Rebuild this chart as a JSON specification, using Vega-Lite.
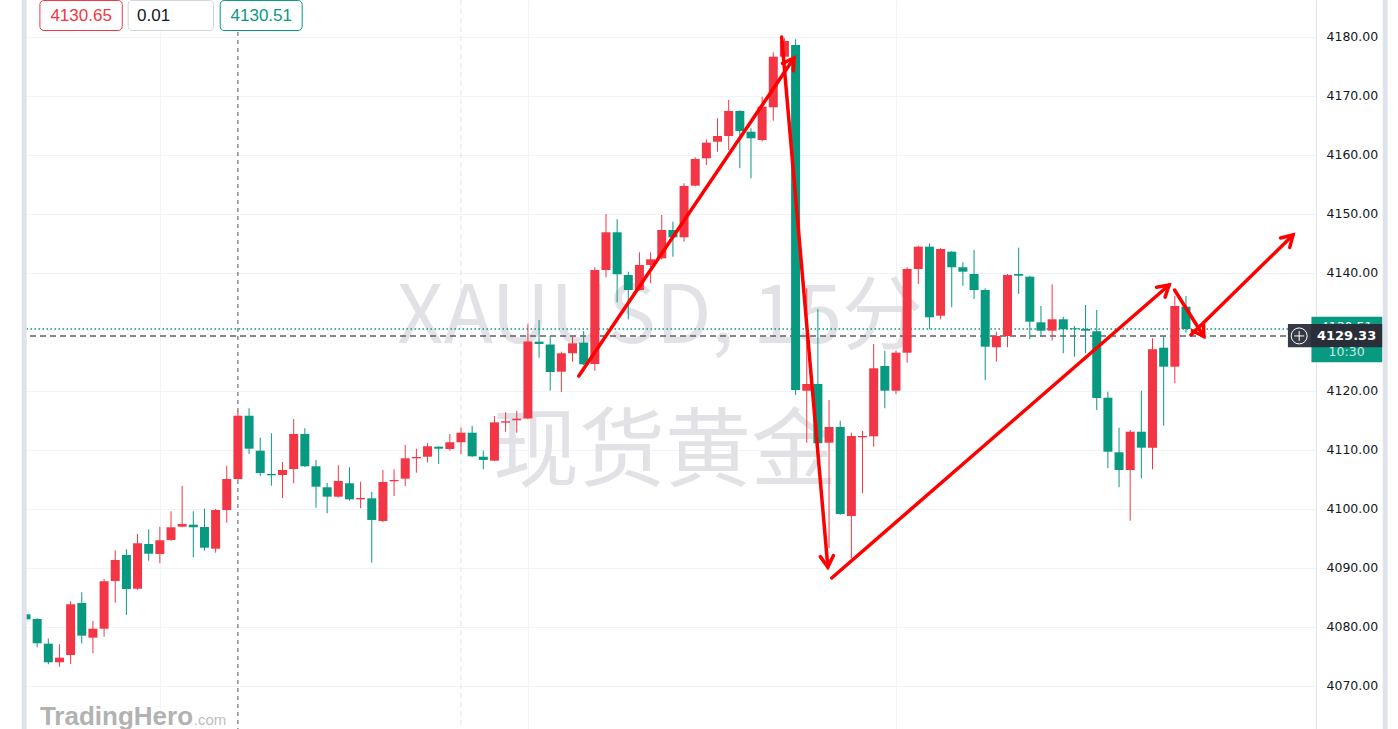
{
"$schema":"https://vega.github.io/schema/vega-lite/v6.json",
"width":1294,"height":729,
"autosize":{"type":"none"},
"padding":{"left":22,"top":0,"right":82,"bottom":0},
"background":"#ffffff",
"config":{"view":{"stroke":null}},
"data":{"values":[{}]},
"datasets":{
"candles":[
{"i":1,"o":4082.15,"h":4082.3,"l":4081.1,"c":4081.3},
{"i":2,"o":4081.36,"h":4081.47,"l":4076.56,"c":4077.24},
{"i":3,"o":4077.17,"h":4078.02,"l":4073.68,"c":4074.02},
{"i":4,"o":4074.02,"h":4077.07,"l":4073.27,"c":4074.8},
{"i":5,"o":4075.25,"h":4084.36,"l":4073.73,"c":4083.85},
{"i":6,"o":4084.07,"h":4085.88,"l":4077.24,"c":4078.53},
{"i":7,"o":4078.19,"h":4081.02,"l":4075.54,"c":4079.71},
{"i":8,"o":4079.71,"h":4088.14,"l":4078.36,"c":4087.75},
{"i":9,"o":4087.8,"h":4093.0,"l":4084.12,"c":4091.36},
{"i":10,"o":4092.2,"h":4093.17,"l":4082.03,"c":4086.44},
{"i":11,"o":4086.49,"h":4095.76,"l":4086.3,"c":4094.19},
{"i":12,"o":4094.07,"h":4096.56,"l":4091.24,"c":4092.42},
{"i":13,"o":4092.37,"h":4097.0,"l":4090.8,"c":4094.7},
{"i":14,"o":4094.75,"h":4099.61,"l":4094.6,"c":4096.9},
{"i":15,"o":4097.0,"h":4103.9,"l":4096.9,"c":4097.46},
{"i":16,"o":4097.34,"h":4099.61,"l":4091.81,"c":4096.9},
{"i":17,"o":4096.95,"h":4100.05,"l":4092.93,"c":4093.44},
{"i":18,"o":4093.27,"h":4100.0,"l":4092.59,"c":4099.83},
{"i":19,"o":4099.83,"h":4107.34,"l":4097.68,"c":4105.08},
{"i":20,"o":4105.08,"h":4116.61,"l":4104.9,"c":4115.81},
{"i":21,"o":4115.81,"h":4117.07,"l":4109.32,"c":4110.22},
{"i":22,"o":4109.88,"h":4112.09,"l":4105.59,"c":4106.1},
{"i":23,"o":4105.93,"h":4112.83,"l":4103.95,"c":4105.71},
{"i":24,"o":4105.76,"h":4107.97,"l":4101.86,"c":4106.61},
{"i":25,"o":4106.78,"h":4115.25,"l":4104.36,"c":4112.71},
{"i":26,"o":4112.71,"h":4113.68,"l":4107.1,"c":4107.24},
{"i":27,"o":4107.24,"h":4108.31,"l":4100.22,"c":4103.78},
{"i":28,"o":4103.68,"h":4104.41,"l":4099.27,"c":4102.09},
{"i":29,"o":4102.09,"h":4107.41,"l":4101.95,"c":4104.75},
{"i":30,"o":4104.36,"h":4107.07,"l":4101.41,"c":4101.64},
{"i":31,"o":4101.64,"h":4104.63,"l":4100.12,"c":4101.86},
{"i":32,"o":4101.81,"h":4102.93,"l":4090.9,"c":4098.14},
{"i":33,"o":4097.97,"h":4106.61,"l":4097.75,"c":4104.58},
{"i":34,"o":4104.7,"h":4106.73,"l":4102.2,"c":4104.92},
{"i":35,"o":4105.14,"h":4110.85,"l":4103.9,"c":4108.59},
{"i":36,"o":4108.59,"h":4110.22,"l":4106.15,"c":4108.81},
{"i":37,"o":4108.86,"h":4111.19,"l":4107.92,"c":4110.63},
{"i":38,"o":4110.56,"h":4110.6,"l":4107.63,"c":4110.22},
{"i":39,"o":4110.17,"h":4112.71,"l":4109.88,"c":4111.31},
{"i":40,"o":4111.31,"h":4113.78,"l":4109.32,"c":4112.93},
{"i":41,"o":4112.93,"h":4114.07,"l":4108.8,"c":4108.93},
{"i":42,"o":4108.86,"h":4109.88,"l":4106.73,"c":4108.31},
{"i":43,"o":4108.19,"h":4115.76,"l":4108.1,"c":4114.69},
{"i":44,"o":4114.63,"h":4116.39,"l":4113.1,"c":4114.86},
{"i":45,"o":4115.03,"h":4116.61,"l":4112.93,"c":4115.31},
{"i":46,"o":4115.34,"h":4131.41,"l":4115.2,"c":4128.39},
{"i":47,"o":4128.36,"h":4132.03,"l":4125.64,"c":4127.97},
{"i":48,"o":4127.88,"h":4129.32,"l":4120.05,"c":4123.22},
{"i":49,"o":4123.27,"h":4126.66,"l":4119.83,"c":4126.39},
{"i":50,"o":4126.39,"h":4129.2,"l":4124.97,"c":4128.08},
{"i":51,"o":4128.19,"h":4130.17,"l":4124.4,"c":4124.52},
{"i":52,"o":4124.58,"h":4140.97,"l":4123.44,"c":4140.51},
{"i":53,"o":4140.51,"h":4150.0,"l":4139.27,"c":4146.9},
{"i":54,"o":4146.9,"h":4149.1,"l":4135.03,"c":4139.78},
{"i":55,"o":4139.66,"h":4140.22,"l":4132.12,"c":4137.12},
{"i":56,"o":4137.12,"h":4143.51,"l":4137.0,"c":4141.36},
{"i":57,"o":4141.36,"h":4143.51,"l":4138.25,"c":4142.32},
{"i":58,"o":4142.49,"h":4149.83,"l":4142.3,"c":4147.29},
{"i":59,"o":4147.29,"h":4148.7,"l":4142.76,"c":4146.05},
{"i":60,"o":4146.05,"h":4155.2,"l":4145.31,"c":4154.75},
{"i":61,"o":4154.8,"h":4159.61,"l":4154.7,"c":4159.32},
{"i":62,"o":4159.44,"h":4162.66,"l":4158.31,"c":4162.09},
{"i":63,"o":4162.25,"h":4166.22,"l":4160.56,"c":4163.22},
{"i":64,"o":4163.22,"h":4169.32,"l":4160.85,"c":4167.46},
{"i":65,"o":4167.46,"h":4167.6,"l":4157.75,"c":4164.07},
{"i":66,"o":4163.95,"h":4164.53,"l":4156.05,"c":4162.83},
{"i":67,"o":4162.54,"h":4169.88,"l":4162.25,"c":4168.19},
{"i":68,"o":4168.09,"h":4177.41,"l":4165.81,"c":4176.66},
{"i":69,"o":4176.66,"h":4179.78,"l":4176.5,"c":4179.32},
{"i":70,"o":4178.64,"h":4179.61,"l":4119.32,"c":4120.17},
{"i":71,"o":4120.05,"h":4137.41,"l":4111.24,"c":4121.19},
{"i":72,"o":4121.19,"h":4133.9,"l":4111.0,"c":4111.14},
{"i":73,"o":4111.24,"h":4118.47,"l":4093.39,"c":4113.9},
{"i":74,"o":4113.9,"h":4114.97,"l":4099.0,"c":4099.15},
{"i":75,"o":4098.81,"h":4112.93,"l":4091.64,"c":4112.37},
{"i":76,"o":4112.15,"h":4113.22,"l":4102.66,"c":4112.37},
{"i":77,"o":4112.32,"h":4127.97,"l":4110.56,"c":4123.85},
{"i":78,"o":4124.24,"h":4126.83,"l":4117.07,"c":4120.05},
{"i":79,"o":4120.05,"h":4126.83,"l":4119.49,"c":4126.49},
{"i":80,"o":4126.49,"h":4140.97,"l":4124.8,"c":4140.68},
{"i":81,"o":4140.68,"h":4144.63,"l":4138.14,"c":4144.46},
{"i":82,"o":4144.46,"h":4145.03,"l":4130.46,"c":4132.49},
{"i":83,"o":4132.76,"h":4144.2,"l":4132.15,"c":4144.07},
{"i":84,"o":4143.61,"h":4143.7,"l":4134.19,"c":4140.97},
{"i":85,"o":4140.97,"h":4141.81,"l":4137.85,"c":4140.22},
{"i":86,"o":4139.83,"h":4143.9,"l":4135.59,"c":4137.12},
{"i":87,"o":4137.12,"h":4137.41,"l":4121.86,"c":4127.51},
{"i":88,"o":4127.41,"h":4130.05,"l":4124.97,"c":4129.32},
{"i":89,"o":4129.32,"h":4139.83,"l":4127.41,"c":4139.66},
{"i":90,"o":4139.83,"h":4144.29,"l":4136.44,"c":4139.54},
{"i":91,"o":4139.37,"h":4139.54,"l":4128.76,"c":4131.75},
{"i":92,"o":4131.64,"h":4134.41,"l":4129.32,"c":4130.22},
{"i":93,"o":4130.22,"h":4138.08,"l":4128.53,"c":4132.15},
{"i":94,"o":4132.15,"h":4132.59,"l":4126.39,"c":4130.46},
{"i":95,"o":4130.63,"h":4131.02,"l":4125.81,"c":4130.46},
{"i":96,"o":4130.51,"h":4134.58,"l":4126.39,"c":4130.22},
{"i":97,"o":4130.12,"h":4133.73,"l":4116.78,"c":4118.81},
{"i":98,"o":4118.86,"h":4119.88,"l":4106.9,"c":4109.71},
{"i":99,"o":4109.61,"h":4113.78,"l":4103.68,"c":4106.61},
{"i":100,"o":4106.61,"h":4113.39,"l":4098.02,"c":4113.1},
{"i":101,"o":4113.1,"h":4120.05,"l":4105.2,"c":4110.39},
{"i":102,"o":4110.39,"h":4128.93,"l":4106.73,"c":4127.07},
{"i":103,"o":4127.34,"h":4129.32,"l":4114.12,"c":4124.12},
{"i":104,"o":4124.12,"h":4136.1,"l":4121.31,"c":4134.41},
{"i":105,"o":4134.29,"h":4136.1,"l":4129.88,"c":4130.51}
],
"arrows":[
{"id":1,"xa":50.56,"ya":4122.54,"xb":69.86,"yb":4176.44},
{"id":2,"xa":68.75,"ya":4180.0,"xb":72.89,"yb":4090.17},
{"id":3,"xa":73.24,"ya":4088.31,"xb":103.49,"yb":4137.97},
{"id":4,"xa":103.98,"ya":4137.12,"xb":106.6,"yb":4129.24},
{"id":5,"xa":105.45,"ya":4129.49,"xb":114.6,"yb":4146.44}
]
},
"layer":[
{"data":{"name":"candles"},
 "mark":{"type":"rule","strokeWidth":1,"clip":true},
 "encoding":{
  "x":{"field":"i","type":"quantitative","scale":{"domain":[1.089,116.21],"nice":false,"zero":false},
       "axis":{"orient":"bottom","values":[13,46,79],"grid":true,"gridColor":"#f0f3fa","gridWidth":1,"labels":false,"ticks":false,"domain":false,"title":null}},
  "y":{"field":"l","type":"quantitative","scale":{"domain":[4062.71,4186.27],"nice":false,"zero":false},
       "axis":{"orient":"right","values":[4070,4080,4090,4100,4110,4120,4140,4150,4160,4170,4180],"format":".2f","grid":true,"gridColor":"#f0f3fa","gridWidth":1,"ticks":false,"domain":true,"domainColor":"#e0e3eb","domainWidth":1,"labelFont":"DejaVu Sans","labelFontSize":12.5,"labelColor":"#131722","labelPadding":10,"labelAlign":"left","labelBaseline":"middle","title":null}},
  "y2":{"field":"h"},
  "color":{"value":"#ffffff"},
  "opacity":{"value":0}}},
{"mark":{"type":"text","text":"XAUUSD, 15分","font":"Noto Sans CJK SC","fontSize":81,"color":"#e1e1e6","align":"center","baseline":"alphabetic"},
 "encoding":{"x":{"datum":57.85,"type":"quantitative","scale":{"domain":[1.089,116.21],"nice":false,"zero":false}},
             "y":{"datum":4128.14,"type":"quantitative","scale":{"domain":[4062.71,4186.27],"nice":false,"zero":false}}}},
{"mark":{"type":"text","text":"现货黄金","font":"Noto Sans CJK SC","fontSize":86,"color":"#e1e1e6","align":"center","baseline":"alphabetic"},
 "encoding":{"x":{"datum":58.29,"type":"quantitative","scale":{"domain":[1.089,116.21],"nice":false,"zero":false}},
             "y":{"datum":4104.92,"type":"quantitative","scale":{"domain":[4062.71,4186.27],"nice":false,"zero":false}}}},
{"mark":{"type":"rule","color":"#e0e3eb","strokeDash":[5,4],"strokeWidth":1},
 "encoding":{"x":{"datum":40,"type":"quantitative","scale":{"domain":[1.089,116.21],"nice":false,"zero":false}}}},
{"mark":{"type":"rule","color":"#50535e","strokeDash":[4,4],"strokeWidth":1},
 "encoding":{"x":{"datum":20,"type":"quantitative","scale":{"domain":[1.089,116.21],"nice":false,"zero":false}}}},
{"mark":{"type":"rule","color":"#089981","strokeDash":[1.5,2.5],"strokeWidth":1.5},
 "encoding":{"y":{"datum":4130.51,"type":"quantitative","scale":{"domain":[4062.71,4186.27],"nice":false,"zero":false}}}},
{"mark":{"type":"rule","color":"#5d606b","strokeDash":[6,4],"strokeWidth":1.5},
 "encoding":{"y":{"datum":4129.33,"type":"quantitative","scale":{"domain":[4062.71,4186.27],"nice":false,"zero":false}}}},
{"data":{"name":"candles"},
 "mark":{"type":"rule","strokeWidth":1,"clip":true},
 "encoding":{
  "x":{"field":"i","type":"quantitative","title":null,"scale":{"domain":[1.089,116.21],"nice":false,"zero":false}},
  "y":{"field":"l","type":"quantitative","title":null,"scale":{"domain":[4062.71,4186.27],"nice":false,"zero":false}},
  "y2":{"field":"h"},
  "color":{"condition":{"test":"datum.c > datum.o","value":"#f23645"},"value":"#089981"}}},
{"data":{"name":"candles"},
 "mark":{"type":"bar","width":9,"clip":true},
 "encoding":{
  "x":{"field":"i","type":"quantitative","title":null,"scale":{"domain":[1.089,116.21],"nice":false,"zero":false}},
  "y":{"field":"o","type":"quantitative","title":null,"scale":{"domain":[4062.71,4186.27],"nice":false,"zero":false}},
  "y2":{"field":"c"},
  "color":{"condition":{"test":"datum.c > datum.o","value":"#f23645"},"value":"#089981"}}},
{"data":{"name":"arrows"},
 "mark":{"type":"rule","color":"#ff0000","strokeWidth":3.5,"strokeCap":"round"},
 "encoding":{
  "x":{"field":"xa","type":"quantitative","title":null,"scale":{"domain":[1.089,116.21],"nice":false,"zero":false}},
  "y":{"field":"ya","type":"quantitative","title":null,"scale":{"domain":[4062.71,4186.27],"nice":false,"zero":false}},
  "x2":{"field":"xb"},"y2":{"field":"yb"}}},
{"data":{"name":"arrows"},
 "mark":{"type":"point","shape":"M-0.6,1L0,0L0.6,1","filled":false,"color":"#ff0000","strokeWidth":3.5,"size":484,"strokeCap":"round","opacity":1},
 "encoding":{
  "x":{"field":"xb","type":"quantitative","title":null,"scale":{"domain":[1.089,116.21],"nice":false,"zero":false}},
  "y":{"field":"yb","type":"quantitative","title":null,"scale":{"domain":[4062.71,4186.27],"nice":false,"zero":false}},
  "angle":{"field":"id","type":"quantitative","scale":{"type":"linear","domain":[1,2,3,4,5],"range":[34.3,175,49.2,147.6,45.8]},"legend":null}}},
{"mark":{"type":"rect","color":"#089981"},
 "encoding":{"x":{"datum":116.25,"type":"quantitative","scale":{"domain":[1.089,116.21],"nice":false,"zero":false}},"x2":{"datum":122.6},
             "y":{"datum":4132.6,"type":"quantitative","scale":{"domain":[4062.71,4186.27],"nice":false,"zero":false}},"y2":{"datum":4124.86}}},
{"mark":{"type":"text","text":"4130.51","font":"DejaVu Sans","fontSize":12.5,"color":"#ffffff","align":"center","baseline":"middle"},
 "encoding":{"x":{"datum":119.4,"type":"quantitative","scale":{"domain":[1.089,116.21],"nice":false,"zero":false}},
             "y":{"datum":4130.85,"type":"quantitative","scale":{"domain":[4062.71,4186.27],"nice":false,"zero":false}}}},
{"mark":{"type":"rect","color":"#363a45"},
 "encoding":{"x":{"datum":114.14,"type":"quantitative","scale":{"domain":[1.089,116.21],"nice":false,"zero":false}},"x2":{"datum":116.21},
             "y":{"datum":4131.36,"type":"quantitative","scale":{"domain":[4062.71,4186.27],"nice":false,"zero":false}},"y2":{"datum":4127.41}}},
{"mark":{"type":"rect","color":"#2a2e39"},
 "encoding":{"x":{"datum":116.21,"type":"quantitative","scale":{"domain":[1.089,116.21],"nice":false,"zero":false}},"x2":{"datum":122.6},
             "y":{"datum":4131.36,"type":"quantitative","scale":{"domain":[4062.71,4186.27],"nice":false,"zero":false}},"y2":{"datum":4127.41}}},
{"mark":{"type":"text","text":"4129.33","font":"DejaVu Sans","fontSize":13,"fontWeight":"bold","color":"#ffffff","align":"center","baseline":"middle"},
 "encoding":{"x":{"datum":119.4,"type":"quantitative","scale":{"domain":[1.089,116.21],"nice":false,"zero":false}},
             "y":{"datum":4129.33,"type":"quantitative","scale":{"domain":[4062.71,4186.27],"nice":false,"zero":false}}}},
{"mark":{"type":"text","text":"10:30","font":"DejaVu Sans","fontSize":12.5,"color":"#c5eae2","align":"center","baseline":"middle"},
 "encoding":{"x":{"datum":119.4,"type":"quantitative","scale":{"domain":[1.089,116.21],"nice":false,"zero":false}},
             "y":{"datum":4126.61,"type":"quantitative","scale":{"domain":[4062.71,4186.27],"nice":false,"zero":false}}}},
{"mark":{"type":"point","shape":"circle","filled":false,"color":"#ffffff","strokeWidth":1,"size":256,"opacity":1},
 "encoding":{"x":{"datum":115.15,"type":"quantitative","scale":{"domain":[1.089,116.21],"nice":false,"zero":false}},
             "y":{"datum":4129.33,"type":"quantitative","scale":{"domain":[4062.71,4186.27],"nice":false,"zero":false}}}},
{"mark":{"type":"point","shape":"M-1,0L1,0M0,-1L0,1","filled":false,"color":"#ffffff","strokeWidth":1,"size":100,"opacity":1},
 "encoding":{"x":{"datum":115.15,"type":"quantitative","scale":{"domain":[1.089,116.21],"nice":false,"zero":false}},
             "y":{"datum":4129.33,"type":"quantitative","scale":{"domain":[4062.71,4186.27],"nice":false,"zero":false}}}},
{"mark":{"type":"rect","fill":"#ffffff","stroke":"#f23645","strokeWidth":1,"cornerRadius":4},
 "encoding":{"x":{"datum":2.245,"type":"quantitative","scale":{"domain":[1.089,116.21],"nice":false,"zero":false}},"x2":{"datum":9.63},
             "y":{"datum":4186.19,"type":"quantitative","scale":{"domain":[4062.71,4186.27],"nice":false,"zero":false}},"y2":{"datum":4181.1}}},
{"mark":{"type":"rect","fill":"#ffffff","stroke":"#d1d4dc","strokeWidth":1,"cornerRadius":4},
 "encoding":{"x":{"datum":10.16,"type":"quantitative","scale":{"domain":[1.089,116.21],"nice":false,"zero":false}},"x2":{"datum":17.81},
             "y":{"datum":4186.19,"type":"quantitative","scale":{"domain":[4062.71,4186.27],"nice":false,"zero":false}},"y2":{"datum":4181.1}}},
{"mark":{"type":"rect","fill":"#ffffff","stroke":"#089981","strokeWidth":1,"cornerRadius":4},
 "encoding":{"x":{"datum":18.41,"type":"quantitative","scale":{"domain":[1.089,116.21],"nice":false,"zero":false}},"x2":{"datum":25.76},
             "y":{"datum":4186.19,"type":"quantitative","scale":{"domain":[4062.71,4186.27],"nice":false,"zero":false}},"y2":{"datum":4181.1}}},
{"mark":{"type":"text","text":"4130.65","font":"Liberation Sans","fontSize":17,"color":"#f23645","align":"center","baseline":"middle"},
 "encoding":{"x":{"datum":5.94,"type":"quantitative","scale":{"domain":[1.089,116.21],"nice":false,"zero":false}},
             "y":{"datum":4183.64,"type":"quantitative","scale":{"domain":[4062.71,4186.27],"nice":false,"zero":false}}}},
{"mark":{"type":"text","text":"0.01","font":"Liberation Sans","fontSize":17,"color":"#131722","align":"left","baseline":"middle"},
 "encoding":{"x":{"datum":10.96,"type":"quantitative","scale":{"domain":[1.089,116.21],"nice":false,"zero":false}},
             "y":{"datum":4183.64,"type":"quantitative","scale":{"domain":[4062.71,4186.27],"nice":false,"zero":false}}}},
{"mark":{"type":"text","text":"4130.51","font":"Liberation Sans","fontSize":17,"color":"#089981","align":"center","baseline":"middle"},
 "encoding":{"x":{"datum":22.09,"type":"quantitative","scale":{"domain":[1.089,116.21],"nice":false,"zero":false}},
             "y":{"datum":4183.64,"type":"quantitative","scale":{"domain":[4062.71,4186.27],"nice":false,"zero":false}}}},
{"mark":{"type":"text","text":"TradingHero","font":"Liberation Sans","fontSize":26,"fontWeight":"bold","color":"#b2b2b2","align":"left","baseline":"alphabetic"},
 "encoding":{"x":{"datum":2.246,"type":"quantitative","scale":{"domain":[1.089,116.21],"nice":false,"zero":false}},
             "y":{"datum":4063.39,"type":"quantitative","scale":{"domain":[4062.71,4186.27],"nice":false,"zero":false}}}},
{"mark":{"type":"text","text":".com","font":"Liberation Sans","fontSize":15,"color":"#bdbdbd","align":"left","baseline":"alphabetic"},
 "encoding":{"x":{"datum":16.04,"type":"quantitative","scale":{"domain":[1.089,116.21],"nice":false,"zero":false}},
             "y":{"datum":4063.39,"type":"quantitative","scale":{"domain":[4062.71,4186.27],"nice":false,"zero":false}}}},
{"mark":{"type":"rule","color":"#e0e3eb","strokeWidth":5},
 "encoding":{"x":{"datum":0.84,"type":"quantitative","scale":{"domain":[1.089,116.21],"nice":false,"zero":false}}}},
{"mark":{"type":"rule","color":"#e0e3eb","strokeWidth":5},
 "encoding":{"x":{"datum":122.86,"type":"quantitative","scale":{"domain":[1.089,116.21],"nice":false,"zero":false}}}}
]
}
